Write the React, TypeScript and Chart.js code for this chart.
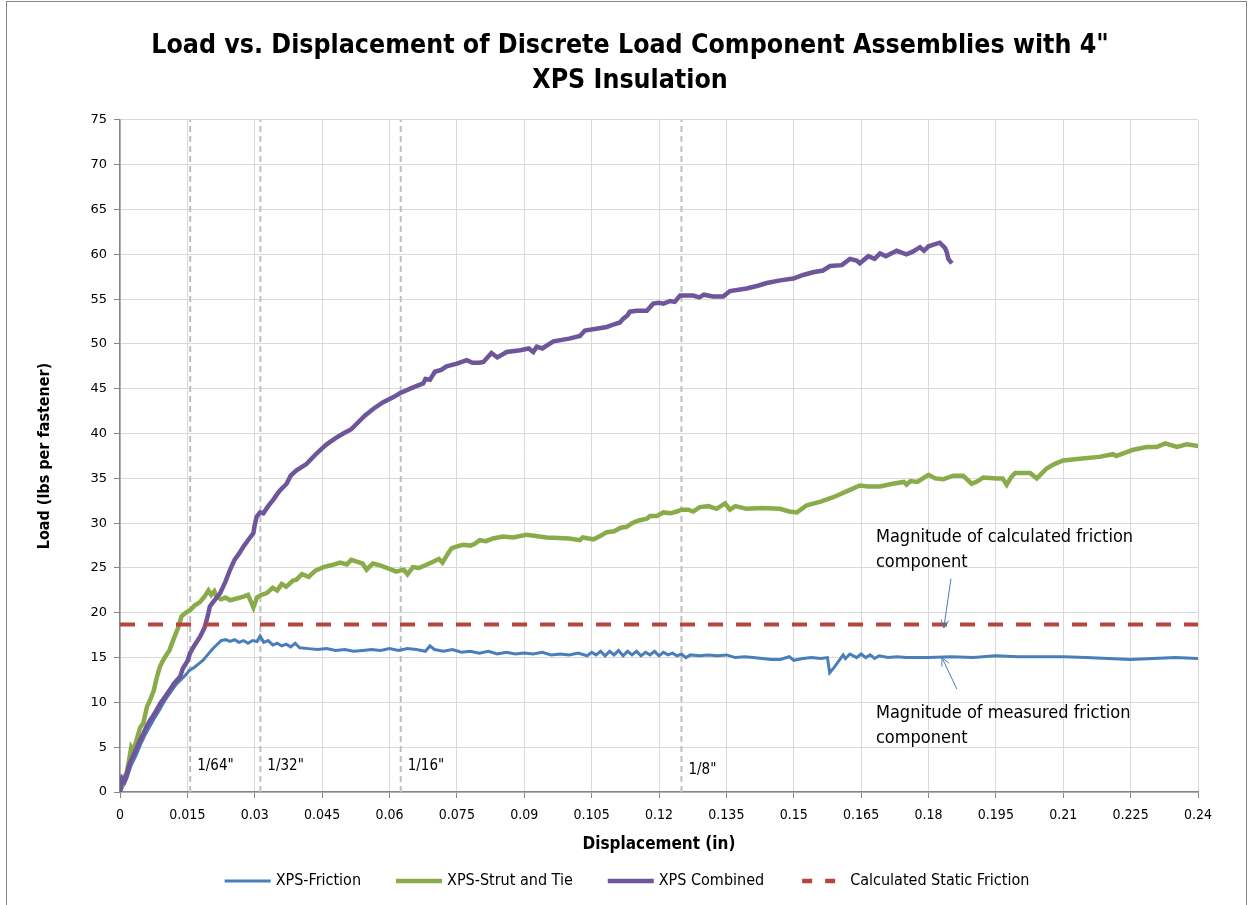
import React, { useEffect, useRef } from "react";
import { Chart, registerables } from "chart.js";

Chart.register(...registerables);

const FONT = "'DejaVu Sans Condensed', 'Liberation Sans Narrow', 'DejaVu Sans', sans-serif";
const TICK_FONT = "'DejaVu Sans', sans-serif";

const chartTitle = ["Load vs. Displacement of Discrete Load Component Assemblies with 4\"", "XPS Insulation"];
const xAxisTitle = "Displacement (in)";
const yAxisTitle = "Load (lbs per fastener)";

const seriesNames = ["XPS-Friction", "XPS-Strut and Tie", "XPS Combined", "Calculated Static Friction"];
const seriesColors = ["#4a7ebb", "#8aab4a", "#6f5599", "#b8433f"];

const xTickValues = [0, 0.015, 0.03, 0.045, 0.06, 0.075, 0.09, 0.105, 0.12, 0.135, 0.15, 0.165, 0.18, 0.195, 0.21, 0.225, 0.24];
const xTickLabels = ["0", "0.015", "0.03", "0.045", "0.06", "0.075", "0.09", "0.105", "0.12", "0.135", "0.15", "0.165", "0.18", "0.195", "0.21", "0.225", "0.24"];

const staticFriction = 18.7;

const markerX = [1 / 64, 1 / 32, 1 / 16, 1 / 8];
const markerLabels = ["1/64\"", "1/32\"", "1/16\"", "1/8\""];
const markerLabelY = [2.9, 2.9, 2.9, 2.45];

const annotationText = [
  ["Magnitude of calculated friction", "component"],
  ["Magnitude of measured friction", "component"],
];

const frictionData = [
  [0, 0], [0.0015, 1.5], [0.0025, 3.0], [0.0035, 4.0], [0.0045, 5.2], [0.0055, 6.3], [0.0065, 7.2],
  [0.0075, 8.1], [0.0085, 8.9], [0.0095, 9.8], [0.0105, 10.6], [0.0115, 11.3], [0.0125, 12.0],
  [0.0135, 12.5], [0.0145, 13.0], [0.0155, 13.6], [0.0165, 13.9], [0.0175, 14.3], [0.0185, 14.7],
  [0.0195, 15.3], [0.0205, 15.9], [0.0215, 16.4], [0.0225, 16.9], [0.0235, 17.0], [0.0245, 16.8],
  [0.0255, 17.0], [0.0265, 16.7], [0.0275, 16.9], [0.0285, 16.6], [0.0295, 16.9], [0.0305, 16.8],
  [0.0312, 17.4], [0.032, 16.7], [0.033, 16.9], [0.034, 16.4], [0.035, 16.6], [0.036, 16.3],
  [0.037, 16.5], [0.038, 16.2], [0.039, 16.6], [0.04, 16.1], [0.042, 16.0], [0.044, 15.9],
  [0.046, 16.0], [0.048, 15.8], [0.05, 15.9], [0.052, 15.7], [0.054, 15.8], [0.056, 15.9],
  [0.058, 15.8], [0.06, 16.0], [0.062, 15.8], [0.064, 16.0], [0.066, 15.9], [0.068, 15.7],
  [0.069, 16.3], [0.07, 15.9], [0.072, 15.7], [0.074, 15.9], [0.076, 15.6], [0.078, 15.7],
  [0.08, 15.5], [0.082, 15.7], [0.084, 15.4], [0.086, 15.6], [0.088, 15.4], [0.09, 15.5],
  [0.092, 15.4], [0.094, 15.6], [0.096, 15.3], [0.098, 15.4], [0.1, 15.3], [0.102, 15.5],
  [0.104, 15.2], [0.105, 15.6], [0.106, 15.3], [0.107, 15.7], [0.108, 15.2], [0.109, 15.7],
  [0.11, 15.3], [0.111, 15.8], [0.112, 15.2], [0.113, 15.7], [0.114, 15.3], [0.115, 15.7],
  [0.116, 15.2], [0.117, 15.6], [0.118, 15.3], [0.119, 15.7], [0.12, 15.2], [0.121, 15.6],
  [0.122, 15.3], [0.123, 15.5], [0.124, 15.2], [0.125, 15.4], [0.126, 15.0], [0.127, 15.3],
  [0.129, 15.2], [0.131, 15.3], [0.133, 15.2], [0.135, 15.3], [0.137, 15.0], [0.139, 15.1],
  [0.141, 15.0], [0.143, 14.9], [0.145, 14.8], [0.147, 14.8], [0.149, 15.1], [0.15, 14.7],
  [0.152, 14.9], [0.154, 15.0], [0.156, 14.9], [0.1575, 15.0], [0.158, 13.3], [0.159, 13.9],
  [0.16, 14.6], [0.161, 15.3], [0.1615, 14.9], [0.1625, 15.4], [0.164, 15.0], [0.165, 15.4],
  [0.166, 15.0], [0.167, 15.3], [0.168, 14.9], [0.169, 15.2], [0.171, 15.0], [0.173, 15.1],
  [0.175, 15.0], [0.18, 15.0], [0.185, 15.1], [0.19, 15.0], [0.195, 15.2], [0.2, 15.1],
  [0.205, 15.1], [0.21, 15.1], [0.215, 15.0], [0.22, 14.9], [0.225, 14.8], [0.23, 14.9],
  [0.235, 15.0], [0.24, 14.9],
];

const strutData = [
  [0, 0], [0.0008, 1.5], [0.0015, 2.2], [0.002, 3.5], [0.0025, 5.0], [0.003, 4.6], [0.0038, 6.0],
  [0.0045, 7.2], [0.0052, 7.7], [0.006, 9.5], [0.0068, 10.4], [0.0075, 11.3], [0.0082, 12.8],
  [0.0089, 14.0], [0.0095, 14.6], [0.0102, 15.2], [0.011, 15.8], [0.0115, 16.5], [0.0122, 17.4],
  [0.013, 18.4], [0.0137, 19.6], [0.0146, 20.0], [0.0156, 20.3], [0.0166, 20.8], [0.0178, 21.2],
  [0.0188, 21.8], [0.0197, 22.5], [0.0203, 22.0], [0.021, 22.4], [0.0215, 21.8], [0.0225, 21.5],
  [0.0235, 21.7], [0.0245, 21.4], [0.026, 21.6], [0.0275, 21.8], [0.0285, 22.0], [0.0292, 21.2],
  [0.0297, 20.6], [0.0305, 21.7], [0.0315, 22.0], [0.0327, 22.2], [0.034, 22.8], [0.035, 22.5],
  [0.036, 23.2], [0.037, 22.9], [0.0385, 23.6], [0.0393, 23.7], [0.0405, 24.3], [0.042, 24.0],
  [0.0435, 24.7], [0.0453, 25.1], [0.047, 25.3], [0.049, 25.6], [0.0505, 25.4], [0.0515, 25.9],
  [0.0527, 25.7], [0.054, 25.5], [0.0549, 24.8], [0.0563, 25.5], [0.0579, 25.3], [0.06, 24.9],
  [0.0615, 24.6], [0.0623, 24.7], [0.0632, 24.8], [0.064, 24.3], [0.0652, 25.1], [0.0665, 25.0],
  [0.068, 25.3], [0.0697, 25.7], [0.071, 26.0], [0.0718, 25.6], [0.073, 26.6], [0.0738, 27.2],
  [0.075, 27.4], [0.0764, 27.6], [0.078, 27.5], [0.079, 27.7], [0.0801, 28.1], [0.0815, 28.0],
  [0.083, 28.3], [0.0853, 28.5], [0.0875, 28.4], [0.0905, 28.7], [0.095, 28.4], [0.1, 28.3],
  [0.1024, 28.1], [0.103, 28.4], [0.1054, 28.2], [0.107, 28.6], [0.1084, 29.0], [0.11, 29.1],
  [0.1115, 29.5], [0.1128, 29.6], [0.114, 30.0], [0.1155, 30.3], [0.1173, 30.5], [0.118, 30.8],
  [0.1195, 30.8], [0.121, 31.2], [0.1225, 31.1], [0.124, 31.3], [0.125, 31.5], [0.1265, 31.5],
  [0.1276, 31.3], [0.1291, 31.8], [0.131, 31.9], [0.1328, 31.6], [0.1347, 32.2], [0.1358, 31.5],
  [0.137, 31.9], [0.1395, 31.6], [0.143, 31.7], [0.1469, 31.6], [0.149, 31.3], [0.1507, 31.2],
  [0.1529, 32.0], [0.156, 32.4], [0.1588, 32.9], [0.162, 33.6], [0.1647, 34.2], [0.1665, 34.1],
  [0.1692, 34.1], [0.172, 34.4], [0.1745, 34.6], [0.1751, 34.3], [0.176, 34.7], [0.1775, 34.6],
  [0.18, 35.4], [0.1815, 35.0], [0.1833, 34.9], [0.1855, 35.3], [0.1877, 35.3], [0.1896, 34.4],
  [0.191, 34.7], [0.1922, 35.1], [0.1952, 35.0], [0.1965, 35.0], [0.1974, 34.3], [0.1985, 35.2],
  [0.1993, 35.6], [0.2026, 35.6], [0.2041, 35.0], [0.2063, 36.1], [0.208, 36.6], [0.21, 37.0],
  [0.2137, 37.2], [0.218, 37.4], [0.2211, 37.7], [0.2218, 37.5], [0.224, 37.9], [0.2256, 38.2],
  [0.2286, 38.5], [0.2308, 38.5], [0.2327, 38.9], [0.2353, 38.5], [0.2375, 38.8], [0.2401, 38.6],
];

const combinedData = [
  [0, 0], [0.0005, 1.5], [0.001, 1.2], [0.0015, 2.0], [0.0022, 3.2], [0.003, 4.1], [0.0038, 5.0],
  [0.0045, 5.8], [0.0052, 6.5], [0.006, 7.4], [0.0068, 8.1], [0.0075, 8.6], [0.0082, 9.2],
  [0.009, 9.9], [0.01, 10.6], [0.0111, 11.4], [0.012, 12.1], [0.0134, 12.9], [0.014, 13.8],
  [0.015, 14.6], [0.0156, 15.5], [0.0165, 16.3], [0.0178, 17.3], [0.0188, 18.3], [0.0193, 19.2],
  [0.0197, 20.0], [0.02, 20.7], [0.0212, 21.5], [0.0223, 22.2], [0.0235, 23.5], [0.0245, 24.8],
  [0.0255, 25.9], [0.0265, 26.6], [0.0275, 27.4], [0.0285, 28.1], [0.0297, 28.9], [0.03, 29.8],
  [0.0304, 30.7], [0.0312, 31.2], [0.0319, 31.1], [0.033, 31.9], [0.0341, 32.6], [0.0355, 33.6],
  [0.0371, 34.4], [0.038, 35.3], [0.0393, 35.9], [0.0415, 36.6], [0.0438, 37.8], [0.046, 38.8],
  [0.048, 39.5], [0.0497, 40.0], [0.0515, 40.5], [0.0527, 41.1], [0.0545, 42.0], [0.0565, 42.8],
  [0.0586, 43.5], [0.061, 44.1], [0.0623, 44.5], [0.065, 45.1], [0.0675, 45.6], [0.068, 46.1],
  [0.069, 46.0], [0.0701, 46.9], [0.0715, 47.1], [0.0727, 47.5], [0.075, 47.8], [0.0772, 48.2],
  [0.0785, 47.9], [0.08, 47.9], [0.0809, 48.0], [0.0827, 49.0], [0.084, 48.5], [0.0861, 49.1],
  [0.0891, 49.3], [0.091, 49.5], [0.092, 49.1], [0.0928, 49.7], [0.094, 49.5], [0.0965, 50.3],
  [0.1, 50.6], [0.1024, 50.9], [0.1035, 51.5], [0.106, 51.7], [0.1084, 51.9], [0.11, 52.2],
  [0.1113, 52.4], [0.112, 52.8], [0.113, 53.2], [0.1135, 53.6], [0.115, 53.7], [0.1173, 53.7],
  [0.1187, 54.5], [0.12, 54.6], [0.121, 54.5], [0.1225, 54.8], [0.1235, 54.7], [0.1247, 55.4],
  [0.1276, 55.4], [0.129, 55.2], [0.13, 55.5], [0.132, 55.3], [0.1343, 55.3], [0.1358, 55.9],
  [0.1395, 56.2], [0.142, 56.5], [0.144, 56.8], [0.147, 57.1], [0.1499, 57.3], [0.1521, 57.7],
  [0.1543, 58.0], [0.1565, 58.2], [0.1581, 58.7], [0.1607, 58.8], [0.1625, 59.5], [0.164, 59.3],
  [0.1647, 59.0], [0.1666, 59.8], [0.168, 59.5], [0.1692, 60.1], [0.1705, 59.8], [0.1729, 60.4],
  [0.1751, 60.0], [0.1765, 60.3], [0.1781, 60.8], [0.179, 60.4], [0.18, 60.9], [0.1825, 61.3],
  [0.1837, 60.7], [0.1841, 60.2], [0.1844, 59.5], [0.1852, 59.0],
];

const toPoints = (arr: number[][]) => arr.map(([x, y]) => ({ x, y }));

const bgPlugin = {
  id: "bgBorder",
  beforeDraw(chart: any) {
    const { ctx, width, height } = chart;
    ctx.save();
    ctx.fillStyle = "#ffffff";
    ctx.fillRect(0, 0, width, height);
    ctx.strokeStyle = "#868686";
    ctx.lineWidth = 1;
    ctx.strokeRect(6.5, 1.5, 1240, height + 10);
    ctx.restore();
  },
};

function drawArrow(ctx: any, x0: number, y0: number, x1: number, y1: number) {
  ctx.beginPath();
  ctx.moveTo(x0, y0);
  ctx.lineTo(x1, y1);
  const ang = Math.atan2(y1 - y0, x1 - x0);
  const len = 9;
  const spread = 0.45;
  ctx.moveTo(x1, y1);
  ctx.lineTo(x1 - len * Math.cos(ang - spread), y1 - len * Math.sin(ang - spread));
  ctx.moveTo(x1, y1);
  ctx.lineTo(x1 - len * Math.cos(ang + spread), y1 - len * Math.sin(ang + spread));
  ctx.stroke();
}

const annotationPlugin = {
  id: "annotations",
  afterDatasetsDraw(chart: any) {
    const { ctx } = chart;
    const xs = chart.scales.x;
    const ys = chart.scales.y;
    ctx.save();
    ctx.fillStyle = "#000000";
    ctx.textBaseline = "middle";
    ctx.textAlign = "left";
    ctx.font = `15px ${FONT}`;
    markerX.forEach((v, i) => {
      ctx.fillText(markerLabels[i], xs.getPixelForValue(v) + 7, ys.getPixelForValue(markerLabelY[i]));
    });

    ctx.font = `18px ${FONT}`;
    const textX = xs.getPixelForValue(0.1683);
    ctx.fillText(annotationText[0][0], textX, ys.getPixelForValue(28.4));
    ctx.fillText(annotationText[0][1], textX, ys.getPixelForValue(25.6));
    ctx.fillText(annotationText[1][0], textX, ys.getPixelForValue(8.8));
    ctx.fillText(annotationText[1][1], textX, ys.getPixelForValue(6.0));

    ctx.strokeStyle = "#4a7ebb";
    ctx.lineWidth = 1;
    drawArrow(ctx, xs.getPixelForValue(0.185), ys.getPixelForValue(23.8), xs.getPixelForValue(0.1834), ys.getPixelForValue(18.3));
    drawArrow(ctx, xs.getPixelForValue(0.1863), ys.getPixelForValue(11.5), xs.getPixelForValue(0.183), ys.getPixelForValue(15.0));
    ctx.restore();
  },
};

const legendPlugin = {
  id: "customLegend",
  afterDraw(chart: any) {
    const { ctx } = chart;
    ctx.save();
    ctx.font = `16px ${FONT}`;
    ctx.textBaseline = "middle";
    ctx.textAlign = "left";
    const sample = 46;
    const gapText = 5;
    const gapItem = 35;
    const widths = seriesNames.map((n) => sample + gapText + ctx.measureText(n).width);
    const total = widths.reduce((a, b) => a + b, 0) + gapItem * (seriesNames.length - 1);
    let x = 627 - total / 2;
    const y = 881;
    seriesNames.forEach((name, i) => {
      ctx.beginPath();
      ctx.strokeStyle = seriesColors[i];
      ctx.lineWidth = i === 0 ? 3 : 4.5;
      ctx.setLineDash(i === 3 ? [10, 13] : []);
      ctx.moveTo(x + (i === 3 ? 3 : 0), y);
      ctx.lineTo(x + sample, y);
      ctx.stroke();
      ctx.setLineDash([]);
      ctx.fillStyle = "#000000";
      ctx.fillText(name, x + sample + gapText, y);
      x += widths[i] + gapItem;
    });
    ctx.restore();
  },
};

export default function App() {
  const canvasRef = useRef<HTMLCanvasElement | null>(null);

  useEffect(() => {
    if (!canvasRef.current) return;
    const markerSets = markerX.map((v) => ({
      label: "marker",
      data: [{ x: v, y: 0 }, { x: v, y: 75 }],
      showLine: true,
      borderColor: "#bfbfbf",
      borderWidth: 2,
      borderDash: [6, 4],
      pointRadius: 0,
      order: 10,
    }));
    const chart = new Chart(canvasRef.current, {
      type: "scatter",
      data: {
        datasets: [
          {
            label: seriesNames[3],
            data: [{ x: 0, y: staticFriction }, { x: 0.24, y: staticFriction }],
            showLine: true,
            borderColor: seriesColors[3],
            borderWidth: 4,
            borderDash: [15, 13],
            pointRadius: 0,
            order: 0,
          },
          {
            label: seriesNames[2],
            data: toPoints(combinedData),
            showLine: true,
            borderColor: seriesColors[2],
            borderWidth: 4.5,
            pointRadius: 0,
            order: 1,
          },
          {
            label: seriesNames[1],
            data: toPoints(strutData),
            showLine: true,
            borderColor: seriesColors[1],
            borderWidth: 4.5,
            pointRadius: 0,
            order: 2,
          },
          {
            label: seriesNames[0],
            data: toPoints(frictionData),
            showLine: true,
            borderColor: seriesColors[0],
            borderWidth: 3,
            pointRadius: 0,
            order: 3,
          },
          ...markerSets,
        ],
      },
      options: {
        responsive: false,
        animation: false,
        devicePixelRatio: 1,
        layout: { padding: { left: 10, right: 0, top: 0, bottom: 0 } },
        plugins: {
          legend: { display: false },
          tooltip: { enabled: false },
          title: {
            display: true,
            text: chartTitle,
            color: "#000000",
            font: { family: FONT, size: 26.5, weight: "bold", lineHeight: 1.32 },
            padding: { top: 28.5, bottom: 21.5 },
          },
        },
        scales: {
          x: {
            type: "linear",
            min: 0,
            max: 0.24,
            afterBuildTicks: (scale: any) => {
              scale.ticks = xTickValues.map((v) => ({ value: v }));
            },
            afterFit: (scale: any) => {
              scale.height = 113;
            },
            ticks: {
              autoSkip: false,
              maxRotation: 0,
              padding: 9,
              color: "#000000",
              font: { family: FONT, size: 14 },
              callback: (_v: any, i: number) => xTickLabels[i],
            },
            grid: { color: "#d9d9d9", lineWidth: 1, tickLength: 6, tickColor: "#868686" },
            border: { color: "#868686", width: 1.5 },
            title: {
              display: true,
              text: xAxisTitle,
              color: "#000000",
              font: { family: FONT, size: 17, weight: "bold" },
              padding: { top: 0, bottom: 49.8 },
            },
          },
          y: {
            type: "linear",
            min: 0,
            max: 75,
            afterFit: (scale: any) => {
              scale.width = 110;
            },
            ticks: {
              stepSize: 5,
              padding: 7,
              color: "#000000",
              font: { family: TICK_FONT, size: 13 },
            },
            grid: { color: "#d9d9d9", lineWidth: 1, tickLength: 6, tickColor: "#868686" },
            border: { color: "#868686", width: 1.5 },
            title: {
              display: true,
              text: yAxisTitle,
              color: "#000000",
              font: { family: FONT, size: 16, weight: "bold" },
              padding: { top: 25.4, bottom: 0 },
            },
          },
          y2: {
            type: "linear",
            position: "right",
            display: true,
            afterFit: (scale: any) => {
              scale.width = 52;
            },
            ticks: { display: false },
            grid: { display: false, drawTicks: false },
            border: { display: false },
          },
        },
      },
      plugins: [bgPlugin, annotationPlugin, legendPlugin],
    } as any);
    return () => chart.destroy();
  }, []);

  return (
    <div style={{ position: "absolute", left: 0, top: 0, width: 1250, height: 905 }}>
      <canvas ref={canvasRef} width={1250} height={905} />
    </div>
  );
}
